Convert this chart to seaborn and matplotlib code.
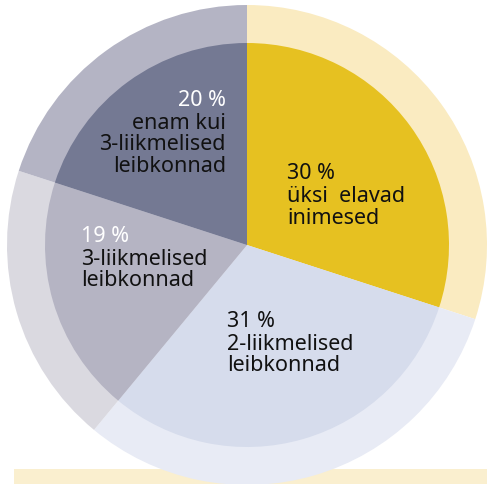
import matplotlib.pyplot as plt
import seaborn as sns
from matplotlib.patches import Rectangle

shares = [30, 31, 19, 20]
labels = ['üksi  elavad\ninimesed', '2-liikmelised\nleibkonnad',
          '3-liikmelised\nleibkonnad', 'enam kui\n3-liikmelised\nleibkonnad']
inner_colors = ['#E6C121', '#D6DCEC', '#B5B4C3', '#747993']
outer_colors = ['#FAEBC1', '#E8EBF5', '#DAD9E0', '#B4B4C4']
pct_colors = ['#111111', '#111111', 'white', 'white']

sns.set_theme(style='white')
plt.rcParams['font.family'] = ['Noto Sans', 'DejaVu Sans']

fig = plt.figure(figsize=(4.87, 4.85), dpi=100)
ax = fig.add_axes([0, 0, 1, 1])

# bottom bar
ax.add_patch(Rectangle((14, 0), 473, 15, color='#FAEFCF', lw=0, zorder=0))

cx, cy = 247, 239
ax.pie(shares, colors=outer_colors, radius=240, center=(cx, cy), startangle=90,
       counterclock=False, wedgeprops=dict(linewidth=0, zorder=1))
ax.pie(shares, colors=inner_colors, radius=202, center=(cx, cy), startangle=90,
       counterclock=False, wedgeprops=dict(linewidth=0, zorder=2))

ax.set_xlim(0, 487)
ax.set_ylim(0, 485)
ax.set_aspect('auto')
ax.axis('off')

# label anchors (pixel coords from top-left), alignment
spots = [(287, 163, 'left'), (227, 311, 'left'), (81, 226, 'left'), (226, 90, 'right')]
fs = 15.5
lh = 22.7
for (x, y, ha), s, lab, pc in zip(spots, shares, labels, pct_colors):
    ax.text(x, 485 - y, f'{s} %', ha=ha, va='top', fontsize=fs, color=pc, zorder=5)
    ax.text(x, 485 - y - lh, lab, ha=ha, va='top', fontsize=fs, color='#111111',
            linespacing=1.05, zorder=5, multialignment=ha)

fig.savefig('out.png', dpi=100)
